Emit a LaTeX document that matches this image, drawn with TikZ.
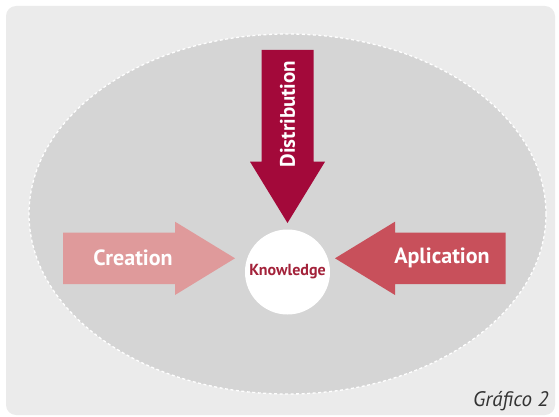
\documentclass[tikz,border=0pt]{standalone}
\usepackage{fontspec}
\setmainfont{PT Sans}
\definecolor{panelgray}{HTML}{EBEBEB}
\definecolor{ovalgray}{HTML}{D5D5D5}
\definecolor{distred}{HTML}{A3093A}
\definecolor{crepink}{HTML}{DF9A9B}
\definecolor{aplrose}{HTML}{C8505B}
\definecolor{knowred}{HTML}{A3223A}
\tikzset{
  arrowlabel/.style={text=white, font=\bfseries\fontsize{22}{22}\selectfont, inner sep=0pt},
}
\begin{document}
\begin{tikzpicture}[x=1pt, y=-1pt]
  \useasboundingbox (0,0) rectangle (559,417);
  % panel and dashed oval
  \fill[panelgray, rounded corners=10pt] (6,6) rectangle (555,415);
  \fill[ovalgray] (287.5,214) ellipse [x radius=258.5, y radius=180];
  \draw[white, line width=1.3pt, dash pattern=on 3pt off 2.5pt] (287.5,214) ellipse [x radius=258.5, y radius=180];
  % block arrows
  \fill[distred] (261.5,50) -- (313.5,50) -- (313.5,161.7) -- (325,161.7) -- (287.5,223)
    -- (250,161.7) -- (261.5,161.7) -- cycle;
  \fill[crepink] (63,232.7) -- (175,232.7) -- (175,221.7) -- (235,258.3) -- (175,295)
    -- (175,284) -- (63,284) -- cycle;
  \fill[aplrose] (505.7,232.7) -- (395,232.7) -- (395,221.7) -- (335,258.3) -- (395,295)
    -- (395,284) -- (505.7,284) -- cycle;
  % centre
  \node[circle, fill=white, minimum size=85pt, inner sep=0pt] (know) at (287.5,272) {};
  \node[text=knowred, font=\bfseries\fontsize{16}{16}\selectfont] (knowtext) at (know) {Knowledge};
  \node[arrowlabel, rotate=90, font=\bfseries\fontsize{21}{21}\selectfont] (dist) at (287.5,114) {Distribution};
  \node[arrowlabel] (cre) at (133,258) {Creation};
  \node[arrowlabel] (apl) at (442,258) {Aplication};
  \node[text=black!80, font=\itshape\fontsize{21}{21}\selectfont, anchor=base east] (cap) at (552,406) {Gráfico 2};
\end{tikzpicture}
\end{document}
